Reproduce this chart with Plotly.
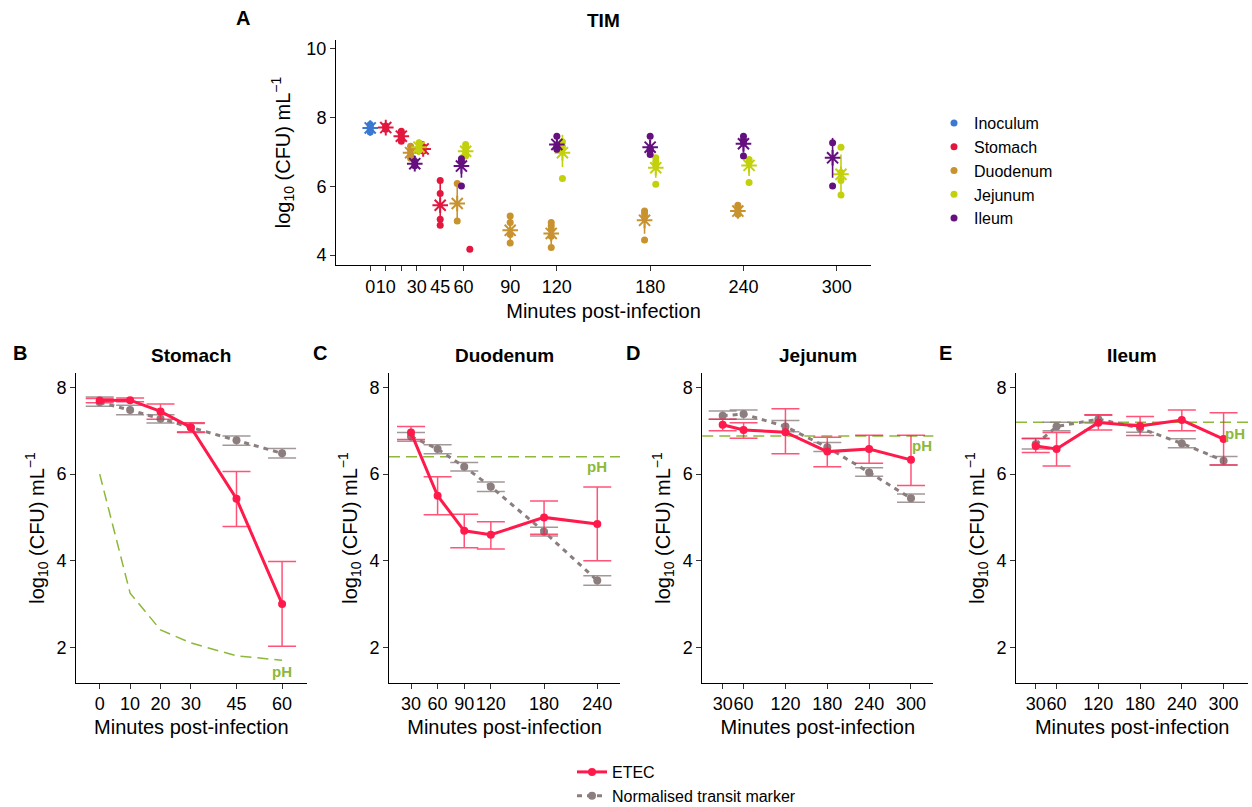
import plotly.graph_objects as go

FONT = "Liberation Sans, Arial, Helvetica, sans-serif"

# ---------------- Panel A (TIM) data ----------------
compartments = ["Inoculum", "Stomach", "Duodenum", "Jejunum", "Ileum"]
comp_colors = {
    "Inoculum": "#3A78D2",
    "Stomach": "#E3173E",
    "Duodenum": "#C8922E",
    "Jejunum": "#C2D10C",
    "Ileum": "#64107F",
}

inoculum_times = [0]
inoculum_reps = [[7.80, 7.74, 7.65, 7.58]]
inoculum_mean = [7.70]
inoculum_lo = [7.60]
inoculum_hi = [7.80]

stomach_times = [10, 20, 30, 45, 60]
stomach_reps = [[7.76, 7.72, 7.66], [7.60, 7.52, 7.43, 7.36, 7.31], [7.15, 7.03],
                [6.17, 5.79, 5.04, 4.87], [4.17]]
stomach_mean = [7.71, 7.46, 7.09, 5.45, None]
stomach_lo = [7.66, 7.33, 7.02, 4.87, None]
stomach_hi = [7.76, 7.60, 7.15, 6.17, None]

duodenum_times = [30, 60, 90, 120, 180, 240]
duodenum_reps = [[7.17, 7.05, 6.95, 6.82], [6.08, 4.99], [5.14, 4.95, 4.60, 4.35],
                 [4.95, 4.85, 4.75, 4.55, 4.22], [5.28, 5.20, 5.10, 4.44],
                 [5.45, 5.35, 5.25, 5.19]]
duodenum_mean = [6.98, 5.50, 4.72, 4.63, 5.01, 5.28]
duodenum_lo = [6.82, 4.99, 4.35, 4.32, 4.62, 5.16]
duodenum_hi = [7.14, 6.05, 5.10, 4.94, 5.30, 5.42]

jejunum_times = [30, 60, 120, 180, 240, 300]
jejunum_reps = [[7.27, 7.15, 7.05], [7.22, 7.12, 7.00, 6.88], [7.30, 7.15, 6.23],
                [6.83, 6.72, 6.62, 6.06], [6.78, 6.70, 6.11], [7.14, 6.40, 6.17, 5.75]]
jejunum_mean = [7.14, 7.02, 6.98, 6.54, 6.61, 6.35]
jejunum_lo = [7.05, 6.88, 6.56, 6.25, 6.30, 5.77]
jejunum_hi = [7.27, 7.22, 7.50, 6.83, 6.78, 6.93]

ileum_times = [30, 60, 120, 180, 240, 300]
ileum_reps = [[6.73, 6.60], [6.80, 6.72, 6.01], [7.46, 7.20, 7.12, 7.08],
              [7.46, 7.10, 7.05, 6.93], [7.46, 7.35, 7.26, 6.88], [7.27, 6.01]]
ileum_mean = [6.66, 6.59, 7.22, 7.14, 7.24, 6.83]
ileum_lo = [6.60, 6.25, 7.08, 6.95, 6.98, 6.25]
ileum_hi = [6.73, 6.85, 7.40, 7.35, 7.50, 7.41]

tim_tickvals = [0, 10, 20, 30, 45, 60, 90, 120, 180, 240, 300]
tim_ticktext = ["0", "10", "", "30", "45", "60", "90", "120", "180", "240", "300"]

# ---------------- Panels B-E data ----------------
stomach_t = [0, 10, 20, 30, 45, 60]
stomach_etec = [7.70, 7.71, 7.45, 7.08, 5.43, 3.00]
stomach_etec_lo = [7.65, 7.67, 7.27, 6.96, 4.79, 2.02]
stomach_etec_hi = [7.75, 7.76, 7.62, 7.19, 6.06, 3.98]
stomach_marker = [7.66, 7.48, 7.28, 7.08, 6.78, 6.48]
stomach_marker_lo = [7.57, 7.37, 7.18, 6.98, 6.67, 6.37]
stomach_marker_hi = [7.78, 7.59, 7.37, 7.17, 6.88, 6.59]
stomach_ph = [6.0, 3.25, 2.4, 2.1, 1.8, 1.7]

duodenum_t = [30, 60, 90, 120, 180, 240]
duodenum_etec = [6.96, 5.50, 4.69, 4.60, 5.00, 4.85]
duodenum_etec_lo = [6.80, 5.06, 4.30, 4.27, 4.61, 4.00]
duodenum_etec_hi = [7.10, 5.94, 5.07, 4.90, 5.38, 5.70]
duodenum_marker = [6.87, 6.58, 6.17, 5.71, 4.67, 3.54]
duodenum_marker_lo = [6.76, 6.47, 6.07, 5.60, 4.57, 3.43]
duodenum_marker_hi = [6.96, 6.68, 6.27, 5.82, 4.77, 3.65]
duodenum_ph = 6.4

jejunum_t = [30, 60, 120, 180, 240, 300]
jejunum_etec = [7.14, 7.02, 6.97, 6.52, 6.58, 6.33]
jejunum_etec_lo = [7.00, 6.83, 6.47, 6.17, 6.25, 5.74]
jejunum_etec_hi = [7.27, 7.19, 7.51, 6.85, 6.90, 6.90]
jejunum_marker = [7.35, 7.39, 7.10, 6.62, 6.04, 5.44]
jejunum_marker_lo = [7.27, 7.27, 6.98, 6.52, 5.95, 5.35]
jejunum_marker_hi = [7.46, 7.48, 7.24, 6.73, 6.15, 5.54]
jejunum_ph = 6.88

ileum_t = [30, 60, 120, 180, 240, 300]
ileum_etec = [6.65, 6.58, 7.19, 7.11, 7.25, 6.81]
ileum_etec_lo = [6.50, 6.19, 7.02, 6.89, 7.00, 6.21]
ileum_etec_hi = [6.83, 6.96, 7.37, 7.33, 7.48, 7.42]
ileum_marker = [6.69, 7.10, 7.27, 7.06, 6.71, 6.31]
ileum_marker_lo = [6.58, 7.00, 7.18, 6.97, 6.61, 6.21]
ileum_marker_hi = [6.82, 7.20, 7.36, 7.15, 6.82, 6.41]
ileum_ph = 7.2

ETEC_COLOR = "#FF1A4B"
ETEC_ERR = "rgba(255,26,75,0.75)"
MARK_COLOR = "#8C7E7F"
MARK_ERR = "rgba(140,126,127,0.8)"
PH_COLOR = "#8DB83A"

fig = go.Figure()

# ---------------- Panel A traces ----------------
tim = {
    "Inoculum": (inoculum_times, inoculum_reps, inoculum_mean, inoculum_lo, inoculum_hi),
    "Stomach": (stomach_times, stomach_reps, stomach_mean, stomach_lo, stomach_hi),
    "Duodenum": (duodenum_times, duodenum_reps, duodenum_mean, duodenum_lo, duodenum_hi),
    "Jejunum": (jejunum_times, jejunum_reps, jejunum_mean, jejunum_lo, jejunum_hi),
    "Ileum": (ileum_times, ileum_reps, ileum_mean, ileum_lo, ileum_hi),
}
DODGE_W = 10.8
present = {}
for c in compartments:
    for t in tim[c][0]:
        present.setdefault(t, []).append(c)


def dodge(c, t):
    groups = sorted(present[t])
    n = len(groups)
    i = groups.index(c)
    return -DODGE_W / 2 + DODGE_W / n * (i + 0.5)


for c in compartments:
    times, reps, mean, lo, hi = tim[c]
    col = comp_colors[c]
    px, py = [], []
    for t, r in zip(times, reps):
        for v in r:
            px.append(t + dodge(c, t))
            py.append(v)
    mx, my, ep, em = [], [], [], []
    for t, m, l, h in zip(times, mean, lo, hi):
        if m is None:
            continue
        mx.append(t + dodge(c, t))
        my.append(m)
        ep.append(h - m)
        em.append(m - l)
    fig.add_trace(go.Scatter(
        x=mx, y=my, mode="markers", xaxis="x", yaxis="y", showlegend=False,
        marker=dict(symbol="asterisk-open", size=13, color=col, line=dict(color=col, width=2)),
        error_y=dict(type="data", symmetric=False, array=ep, arrayminus=em,
                     width=0, thickness=1.6, color=col),
        hoverinfo="skip"))
    fig.add_trace(go.Scatter(
        x=px, y=py, mode="markers", name=c, xaxis="x", yaxis="y", legend="legend",
        marker=dict(symbol="circle", size=7, color=col)))

# ---------------- Panels B-E traces ----------------
panels = [
    ("2", stomach_t, stomach_etec, stomach_etec_lo, stomach_etec_hi,
     stomach_marker, stomach_marker_lo, stomach_marker_hi),
    ("3", duodenum_t, duodenum_etec, duodenum_etec_lo, duodenum_etec_hi,
     duodenum_marker, duodenum_marker_lo, duodenum_marker_hi),
    ("4", jejunum_t, jejunum_etec, jejunum_etec_lo, jejunum_etec_hi,
     jejunum_marker, jejunum_marker_lo, jejunum_marker_hi),
    ("5", ileum_t, ileum_etec, ileum_etec_lo, ileum_etec_hi,
     ileum_marker, ileum_marker_lo, ileum_marker_hi),
]

# stomach pH curve
fig.add_trace(go.Scatter(x=stomach_t, y=stomach_ph, mode="lines", xaxis="x2", yaxis="y2",
                         showlegend=False, line=dict(color=PH_COLOR, width=1.5, dash="11px,6px"),
                         hoverinfo="skip"))

for k, (ax, t, e, elo, ehi, m, mlo, mhi) in enumerate(panels):
    fig.add_trace(go.Scatter(
        x=t, y=m, mode="lines+markers", name="Normalised transit marker",
        xaxis="x" + ax, yaxis="y" + ax, legend="legend2", legendrank=2,
        showlegend=(k == 0),
        line=dict(color=MARK_COLOR, width=3, dash="5px,5px"),
        marker=dict(size=8, color=MARK_COLOR),
        error_y=dict(type="data", symmetric=False,
                     array=[h - v for h, v in zip(mhi, m)],
                     arrayminus=[v - l for v, l in zip(m, mlo)],
                     width=14, thickness=1.5, color=MARK_ERR)))
    fig.add_trace(go.Scatter(
        x=t, y=e, mode="lines+markers", name="ETEC",
        xaxis="x" + ax, yaxis="y" + ax, legend="legend2", legendrank=1,
        showlegend=(k == 0),
        line=dict(color=ETEC_COLOR, width=3),
        marker=dict(size=8, color=ETEC_COLOR),
        error_y=dict(type="data", symmetric=False,
                     array=[h - v for h, v in zip(ehi, e)],
                     arrayminus=[v - l for v, l in zip(e, elo)],
                     width=14, thickness=1.5, color=ETEC_ERR)))

# horizontal pH reference lines
shapes = []
for ax, lvl in [("3", duodenum_ph), ("4", jejunum_ph), ("5", ileum_ph)]:
    shapes.append(dict(type="line", xref="x" + ax + " domain", yref="y" + ax,
                       x0=0, x1=1, y0=lvl, y1=lvl, layer="below",
                       line=dict(color=PH_COLOR, width=1.5, dash="11px,6px")))

W, H = 1252, 807


def dx(a, b):
    return [a / W, b / W]


def dy(top, bottom):
    return [1 - bottom / H, 1 - top / H]


ytitle = "log<sub>10</sub> (CFU) mL<sup>\u22121</sup>"
common = dict(showline=True, linecolor="black", linewidth=1, ticks="outside", ticklen=5,
              tickcolor="#333333", tickwidth=1, showgrid=False, zeroline=False,
              automargin=False, tickangle=0,
              tickfont=dict(size=18, color="black", family=FONT))

layout_axes = {}
layout_axes["xaxis"] = dict(common, domain=dx(336, 871), range=[-22, 322], anchor="y",
                            tickmode="array", tickvals=tim_tickvals, ticktext=tim_ticktext,
                            title=dict(text="Minutes post-infection", standoff=8,
                                       font=dict(size=20, color="black")))
layout_axes["yaxis"] = dict(common, domain=dy(40, 265), range=[3.71, 10.26], anchor="x",
                            tickmode="array", tickvals=[4, 6, 8, 10],
                            title=dict(text=ytitle, standoff=10, font=dict(size=20, color="black")))

bottom_specs = [
    ("2", 76, 306.7, [-7.8, 68.1], [0, 10, 20, 30, 45, 60]),
    ("3", 389, 620, [5.2, 265.6], [30, 60, 90, 120, 180, 240]),
    ("4", 702.3, 933.3, [0.8, 332], [30, 60, 120, 180, 240, 300]),
    ("5", 1016, 1248.3, [1.7, 335.5], [30, 60, 120, 180, 240, 300]),
]
for ax, x0, x1, xr, tv in bottom_specs:
    layout_axes["xaxis" + ax] = dict(common, domain=dx(x0, x1), range=xr, anchor="y" + ax,
                                     tickmode="array", tickvals=tv,
                                     title=dict(text="Minutes post-infection", standoff=6,
                                                font=dict(size=20, color="black")))
    layout_axes["yaxis" + ax] = dict(common, domain=dy(373.3, 682.7), range=[1.18, 8.33],
                                     anchor="x" + ax, tickmode="array", tickvals=[2, 4, 6, 8],
                                     title=dict(text=ytitle, standoff=6,
                                                font=dict(size=20, color="black")))

annotations = []


def ann(text, x, y, size, bold=True, color="black"):
    annotations.append(dict(text="<b>%s</b>" % text if bold else text, x=x / W, y=1 - y / H,
                            xref="paper", yref="paper", xanchor="center", yanchor="middle",
                            showarrow=False, font=dict(size=size, color=color, family=FONT)))


ann("A", 243, 18, 20)
ann("TIM", 603.5, 21, 19)
ann("B", 20, 353, 20)
ann("Stomach", 191, 355, 19)
ann("C", 320, 353, 20)
ann("Duodenum", 504.5, 355, 19)
ann("D", 633, 353, 20)
ann("Jejunum", 818, 355, 19)
ann("E", 945, 353, 20)
ann("Ileum", 1132, 355, 19)

# pH labels
for ax, xv, yv, xa in [("2", 60, 1.45, "center"), ("3", 240, 6.17, "center"),
                       ("4", 300, 6.66, "left"), ("5", 300, 6.95, "left")]:
    annotations.append(dict(text="<b>pH</b>", x=xv, y=yv, xref="x" + ax, yref="y" + ax,
                            xanchor=xa, yanchor="middle", showarrow=False, borderpad=0,
                            font=dict(size=15, color=PH_COLOR, family=FONT)))

fig.update_layout(
    width=W, height=H, margin=dict(l=0, r=0, t=0, b=0, autoexpand=False),
    paper_bgcolor="white", plot_bgcolor="white",
    font=dict(family=FONT, color="black"),
    shapes=shapes, annotations=annotations,
    legend=dict(x=934 / W, y=1 - 106 / H, xanchor="left", yanchor="top",
                font=dict(size=16, color="black"), tracegroupgap=0,
                bgcolor="rgba(0,0,0,0)", itemwidth=30),
    legend2=dict(x=572 / W, y=1 - 755 / H, xanchor="left", yanchor="top",
                 font=dict(size=16, color="black"), tracegroupgap=0,
                 bgcolor="rgba(0,0,0,0)", itemwidth=30),
    **layout_axes,
)

fig.write_html("out.html", config={"displayModeBar": False},
               post_script="document.body.style.margin='0';")
